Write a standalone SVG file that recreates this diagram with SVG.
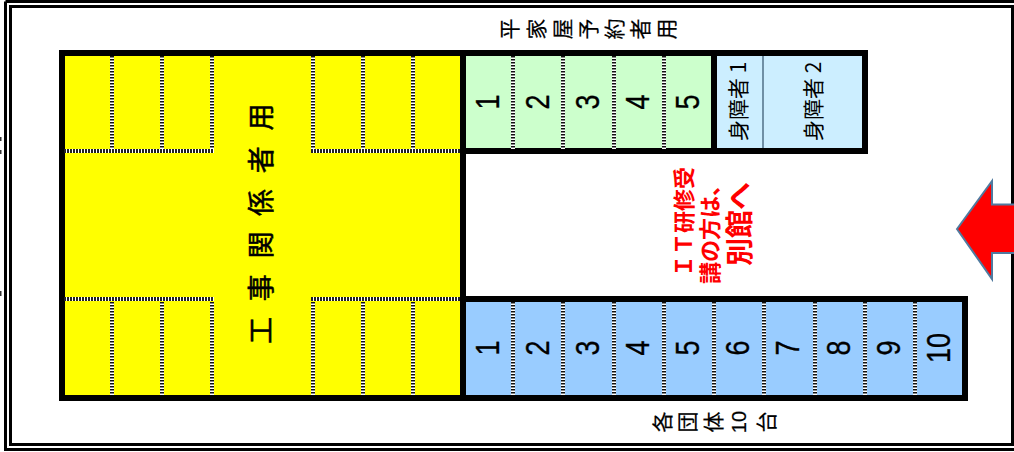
<svg xmlns="http://www.w3.org/2000/svg" width="1014" height="452" viewBox="0 0 1014 452">
<style>
text{font-family:"Noto Sans CJK JP","Liberation Sans",sans-serif;fill:#000}
.num{font-family:"Liberation Sans",sans-serif;font-size:27px;text-anchor:middle;stroke:#000;stroke-width:.3}
.g{font-size:21px;text-anchor:middle;dominant-baseline:central;stroke:#000;stroke-width:.2}
.n{font-family:"Liberation Sans",sans-serif;font-size:20px}
.dv{stroke-dasharray:1.5 1.5;stroke:#111;stroke-width:4;fill:none}
.dh{stroke-dasharray:2 1;stroke:#222;stroke-width:4;fill:none}
.base{stroke:#fff;stroke-width:4;fill:none}
.red{fill:#f00;font-weight:700}
</style>
<defs>
<g id="dashv"><rect x="-2" y="0" width="4" height="93" fill="#fff"/><line class="dv" x1="0" y1="0" x2="0" y2="93"/></g>
</defs>
<g id="frame" fill="none" stroke="#000" stroke-width="3">
<path d="M5.500 1.500H1016M5.500 1.500V449.500H1016"/>
<rect x="10.500" y="6.500" width="1002" height="438"/>
</g>
<g id="stray" fill="#333"><rect x="0" y="137" width="1.500" height="4"/><rect x="0" y="150" width="1.500" height="4"/><rect x="0" y="291" width="1.500" height="5"/></g>
<g id="yellow-area">
<rect x="62" y="53" width="401" height="345" fill="#ff0" stroke="#000" stroke-width="6"/>
<g id="yellow-dashes">
<use href="#dashv" x="112" y="56"/><use href="#dashv" x="162" y="56"/><use href="#dashv" x="212" y="56"/><use href="#dashv" x="313" y="56"/><use href="#dashv" x="363" y="56"/><use href="#dashv" x="413" y="56"/>
<use href="#dashv" x="112" y="302"/><use href="#dashv" x="162" y="302"/><use href="#dashv" x="212" y="302"/><use href="#dashv" x="313" y="302"/><use href="#dashv" x="363" y="302"/><use href="#dashv" x="413" y="302"/>
<path class="base" d="M64 151H214M311 151H460M64 299H214M311 299H460"/>
<path class="dh" d="M64 151H214M311 151H460M64 299H214M311 299H460"/>
</g>
<text transform="translate(271 344) rotate(-90)" font-size="27" letter-spacing="15.700" stroke="#000" stroke-width=".5">工事関係者用</text>
</g>
<g id="green-area">
<rect x="463" y="53" width="251" height="98" fill="#ccffcc" stroke="#000" stroke-width="6"/>
<use href="#dashv" x="513" y="56"/><use href="#dashv" x="563" y="56"/><use href="#dashv" x="614" y="56"/><use href="#dashv" x="664" y="56"/>
<text class="num" transform="translate(499 102) rotate(-90) scale(1 1.2)">1</text>
<text class="num" transform="translate(549 102) rotate(-90) scale(1 1.2)">2</text>
<text class="num" transform="translate(599 102) rotate(-90) scale(1 1.2)">3</text>
<text class="num" transform="translate(649 102) rotate(-90) scale(1 1.2)">4</text>
<text class="num" transform="translate(699 102) rotate(-90) scale(1 1.2)">5</text>
</g>
<g id="disabled-area">
<rect x="714" y="53" width="151" height="98" fill="#cceeff" stroke="#000" stroke-width="6"/>
<line x1="763" y1="56" x2="763" y2="148" stroke="#6f8fa5" stroke-width="2"/>
<text transform="translate(746 141) rotate(-90)" font-size="21">身障者 1</text>
<text transform="translate(821 141) rotate(-90)" font-size="21">身障者 2</text>
</g>
<g id="blue-area">
<rect x="463" y="299" width="502" height="99" fill="#99ccff" stroke="#000" stroke-width="6"/>
<use href="#dashv" x="513" y="302"/><use href="#dashv" x="563" y="302"/><use href="#dashv" x="614" y="302"/><use href="#dashv" x="664" y="302"/><use href="#dashv" x="714" y="302"/><use href="#dashv" x="764" y="302"/><use href="#dashv" x="815" y="302"/><use href="#dashv" x="865" y="302"/><use href="#dashv" x="915" y="302"/>
<text class="num" transform="translate(499 348) rotate(-90) scale(1 1.2)">1</text>
<text class="num" transform="translate(549 348) rotate(-90) scale(1 1.2)">2</text>
<text class="num" transform="translate(599 348) rotate(-90) scale(1 1.2)">3</text>
<text class="num" transform="translate(649 348) rotate(-90) scale(1 1.2)">4</text>
<text class="num" transform="translate(699 348) rotate(-90) scale(1 1.2)">5</text>
<text class="num" transform="translate(749 348) rotate(-90) scale(1 1.2)">6</text>
<text class="num" transform="translate(799 348) rotate(-90) scale(1 1.2)">7</text>
<text class="num" transform="translate(850 348) rotate(-90) scale(1 1.2)">8</text>
<text class="num" transform="translate(900 348) rotate(-90) scale(1 1.2)">9</text>
<text class="num" transform="translate(950 348) rotate(-90) scale(1 1.2)">10</text>
</g>
<g id="labels">
<text class="g" transform="translate(508 29) rotate(-90)">平</text>
<text class="g" transform="translate(535 29) rotate(-90)">家</text>
<text class="g" transform="translate(561 29) rotate(-90)">屋</text>
<text class="g" transform="translate(587 29) rotate(-90)">予</text>
<text class="g" transform="translate(613 29) rotate(-90)">約</text>
<text class="g" transform="translate(639 29) rotate(-90)">者</text>
<text class="g" transform="translate(665 29) rotate(-90)">用</text>
<text class="g" transform="translate(661 422) rotate(-90)">各</text>
<text class="g" transform="translate(686 422) rotate(-90)">団</text>
<text class="g" transform="translate(712 422) rotate(-90)">体</text>
<text class="g n" transform="translate(739 422) rotate(-90)">10</text>
<text class="g" transform="translate(765 422) rotate(-90)">台</text>
</g>
<g id="notice">
<text class="red" transform="translate(692 277) rotate(-90)" font-size="22">ＩＴ研修受</text>
<text class="red" transform="translate(718 284) rotate(-90)" font-size="22">講の方は、</text>
<text class="red" transform="translate(750 266) rotate(-90)" font-size="28">別館へ</text>
</g>
<g id="arrow"><path d="M957 229L992 181V204.500H1016V253H992V279Z" fill="#f00" stroke="#507a9f" stroke-width="2"/></g>
</svg>
